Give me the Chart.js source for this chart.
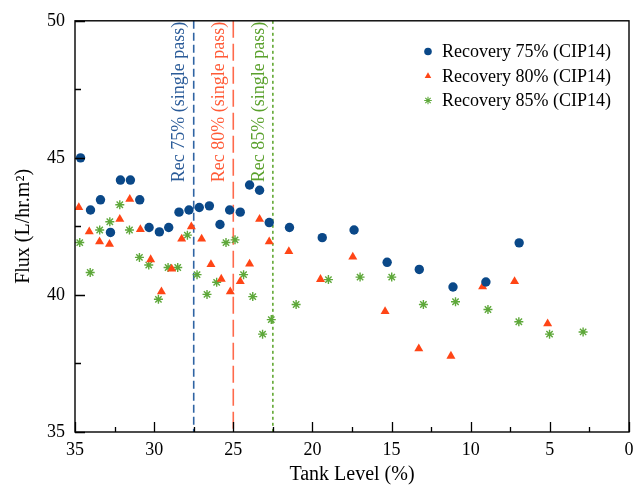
<!DOCTYPE html>
<html>
<head>
<meta charset="utf-8">
<script src="https://cdn.jsdelivr.net/npm/chart.js@4.4.1/dist/chart.umd.min.js"></script>
<style>
  html, body { margin: 0; padding: 0; background: #fff; }
  #wrap { width: 643px; height: 488px; }
</style>
</head>
<body>
<div id="wrap"><canvas id="fluxChart" width="643" height="488"></canvas></div>
<script>
// series
const seriesLabels = ['Recovery 75% (CIP14)', 'Recovery 80% (CIP14)', 'Recovery 85% (CIP14)'];
const seriesColors = ['#0a4888', '#ff4516', '#5ea83a'];
const seriesStyles = ['circle', 'triangle', 'star'];

const tank75 = [34.65, 34.02, 33.39, 32.76, 32.13, 31.5, 30.91, 30.32, 29.67, 29.08, 28.43, 27.8, 27.15, 26.51,
  25.84, 25.23, 24.56, 23.97, 23.34, 22.73, 21.45, 19.38, 17.37, 15.28, 13.25, 11.12, 9.04, 6.94];
const flux75 = [45.0, 43.1, 43.47, 42.28, 44.19, 44.19, 43.47, 42.46, 42.3, 42.46, 43.02, 43.1, 43.19, 43.25,
  42.57, 43.1, 43.02, 44.01, 43.82, 42.64, 42.46, 42.09, 42.37, 41.19, 40.93, 40.29, 40.47, 41.9];

const tank80 = [34.76, 34.1, 33.45, 32.82, 32.17, 31.54, 30.87, 30.22, 29.54, 28.89, 28.26, 27.65, 27.0, 26.41,
  25.76, 25.19, 24.56, 23.97, 23.34, 22.73, 21.49, 19.49, 17.45, 15.41, 13.28, 11.25, 9.25, 7.23, 5.14];
const flux80 = [43.19, 42.31, 41.94, 41.85, 42.76, 43.49, 42.39, 41.29, 40.12, 40.95, 42.04, 42.49, 42.04, 41.11,
  40.58, 40.12, 40.49, 41.13, 42.76, 41.94, 41.59, 40.57, 41.39, 39.4, 38.04, 37.77, 40.3, 40.49, 38.95];

const tank85 = [34.7, 34.04, 33.44, 32.8, 32.17, 31.56, 30.93, 30.34, 29.73, 29.12, 28.51, 27.9, 27.29, 26.66,
  26.05, 25.46, 24.89, 24.35, 23.77, 23.15, 22.6, 21.03, 18.99, 16.99, 14.99, 12.99, 10.96, 8.91, 6.96, 5.02, 2.9];
const flux85 = [41.91, 40.82, 42.37, 42.67, 43.29, 42.37, 41.37, 41.09, 39.84, 41.0, 41.0, 42.18, 40.74, 40.02,
  40.46, 41.91, 42.01, 40.74, 39.94, 38.57, 39.1, 39.65, 40.56, 40.65, 40.65, 39.65, 39.75, 39.47, 39.02, 38.57, 38.65];

// single pass reference levels
const passLevels = [27.5, 25, 22.5];
const passLabels = ['Rec 75% (single pass)', 'Rec 80% (single pass)', 'Rec 85% (single pass)'];
const passColors = ['#2f64a3', '#ff6a4c', '#62a832'];
const passTextColors = ['#2a5b98', '#ff5a36', '#5aa02c'];
const passDashes = [[8, 4], [17, 6], [3, 3]];

// axes
const xMin = 0, xMax = 35, xStep = 5, xMinor = 2.5;
const yMin = 35, yMax = 50, yStep = 5, yMinor = 2.5;

const serif = '"Liberation Serif", "Times New Roman", serif';

function toPoints(xs, ys) {
  return xs.map((x, i) => ({ x: x, y: ys[i] }));
}

const seriesX = [tank75, tank80, tank85];
const seriesY = [flux75, flux80, flux85];
const pointSizes = [4.7, 5.2, 4.5];

const datasets = seriesLabels.map((label, i) => ({
  label: label,
  data: toPoints(seriesX[i], seriesY[i]),
  pointStyle: seriesStyles[i],
  pointRadius: pointSizes[i],
  backgroundColor: seriesColors[i],
  borderColor: seriesColors[i],
  borderWidth: i === 2 ? 1.4 : 0,
  showLine: false
}));

// inward ticks, frame, pass lines and the legend box
const decorPlugin = {
  id: 'decor',
  beforeDatasetsDraw(chart) {
    const { ctx, chartArea: a, scales: { x, y } } = chart;
    ctx.save();
    ctx.lineWidth = 1.6;
    passLevels.forEach((lvl, i) => {
      const px = x.getPixelForValue(lvl);
      ctx.strokeStyle = passColors[i];
      ctx.setLineDash(passDashes[i]);
      ctx.beginPath();
      ctx.moveTo(px, a.top);
      ctx.lineTo(px, a.bottom);
      ctx.stroke();
    });
    ctx.setLineDash([]);
    ctx.font = '18px ' + serif;
    ctx.textAlign = 'right';
    ctx.textBaseline = 'middle';
    passLevels.forEach((lvl, i) => {
      const px = x.getPixelForValue(lvl) - 14;
      ctx.save();
      ctx.translate(px, a.top + 1);
      ctx.rotate(-Math.PI / 2);
      ctx.fillStyle = passTextColors[i];
      ctx.fillText(passLabels[i], 0, 0);
      ctx.restore();
    });
    ctx.restore();
  },
  afterDraw(chart) {
    const { ctx, chartArea: a, scales: { x, y } } = chart;
    ctx.save();
    ctx.strokeStyle = '#000';
    ctx.lineWidth = 1.4;
    ctx.strokeRect(a.left, a.top, a.right - a.left, a.bottom - a.top);

    ctx.lineWidth = 1.3;
    ctx.beginPath();
    for (let v = xMin; v <= xMax + 1e-9; v += xMinor) {
      const px = Math.round(x.getPixelForValue(v)) + 0.5;
      const len = (v % xStep === 0) ? 10 : 5;
      ctx.moveTo(px, a.bottom);
      ctx.lineTo(px, a.bottom - len);
    }
    for (let v = yMin; v <= yMax + 1e-9; v += yMinor) {
      const py = Math.round(y.getPixelForValue(v)) + 0.5;
      const len = (v % yStep === 0) ? 10 : 6;
      ctx.moveTo(a.left, py);
      ctx.lineTo(a.left + len, py);
    }
    ctx.stroke();

    // legend
    const lx = 428, ly = [51.5, 76, 100.5];
    ctx.font = '18px ' + serif;
    ctx.textAlign = 'left';
    ctx.textBaseline = 'middle';
    seriesLabels.forEach((label, i) => {
      const opts = {
        pointStyle: seriesStyles[i],
        radius: i === 0 ? 3.8 : 3.8,
        borderWidth: i === 2 ? 1.1 : 0
      };
      ctx.fillStyle = seriesColors[i];
      ctx.strokeStyle = seriesColors[i];
      ctx.lineWidth = opts.borderWidth;
      Chart.helpers.drawPoint(ctx, opts, lx, ly[i]);
      ctx.fillStyle = '#000';
      ctx.fillText(label, 442, ly[i] + 1);
    });
    ctx.restore();
  }
};

new Chart(document.getElementById('fluxChart'), {
  type: 'scatter',
  data: { datasets: datasets },
  options: {
    responsive: false,
    animation: false,
    devicePixelRatio: 1,
    layout: { padding: { top: 19, right: 14, bottom: 0, left: 0 } },
    plugins: {
      legend: { display: false },
      tooltip: { enabled: false }
    },
    scales: {
      x: {
        type: 'linear',
        reverse: true,
        min: xMin,
        max: xMax,
        grid: { display: false, drawTicks: false },
        border: { display: false },
        ticks: {
          stepSize: xStep,
          color: '#000',
          padding: 7,
          font: { family: serif, size: 18 }
        },
        title: {
          display: true,
          text: 'Tank Level (%)',
          color: '#000',
          font: { family: serif, size: 20 },
          padding: { top: 0, bottom: 1 }
        },
        afterFit(scale) { scale.height = 56; }
      },
      y: {
        min: yMin,
        max: yMax,
        grid: { display: false, drawTicks: false },
        border: { display: false },
        ticks: {
          stepSize: yStep,
          color: '#000',
          padding: 10,
          font: { family: serif, size: 18 }
        },
        title: {
          display: true,
          text: 'Flux (L/hr.m²)',
          color: '#000',
          font: { family: serif, size: 20 },
          padding: { top: 12, bottom: 0 }
        },
        afterFit(scale) { scale.width = 75; }
      }
    }
  },
  plugins: [decorPlugin]
});
</script>
</body>
</html>
